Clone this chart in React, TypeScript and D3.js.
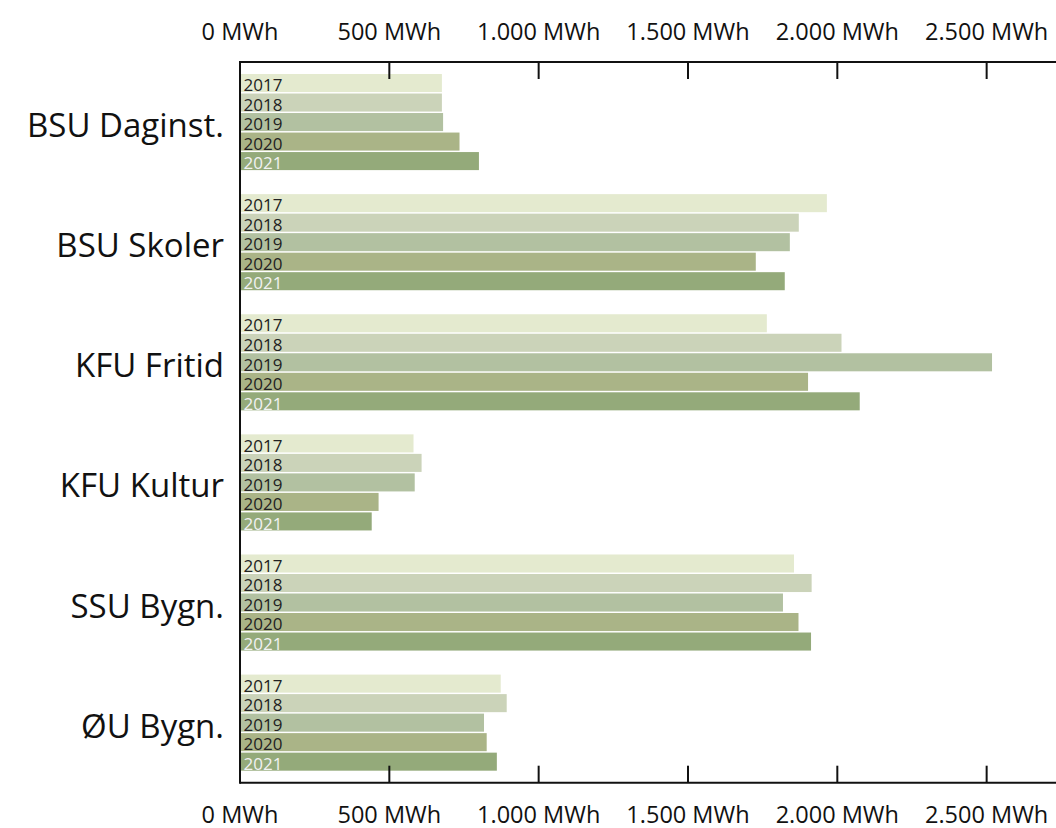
import React from "react";
import * as d3 from "d3";

const categories = ["BSU Daginst.", "BSU Skoler", "KFU Fritid", "KFU Kultur", "SSU Bygn.", "ØU Bygn."];
const years = ["2017", "2018", "2019", "2020", "2021"];
const values2017 = [676, 1965, 1764, 581, 1855, 873];
const values2018 = [676, 1871, 2014, 608, 1914, 893];
const values2019 = [680, 1841, 2518, 585, 1818, 817];
const values2020 = [735, 1727, 1902, 464, 1870, 826];
const values2021 = [800, 1824, 2075, 441, 1912, 860];
const tickValues = [0, 500, 1000, 1500, 2000, 2500];
const yearColors = ["#e4eacf", "#cbd3b9", "#b2c1a1", "#aab487", "#94aa7a"];
const yearTextColors = ["#222", "#222", "#222", "#222", "#f2f2f2"];

const seriesByYear = [values2017, values2018, values2019, values2020, values2021];

const W = 1056;
const H = 828;
const left = 240;
const top = 62;
const bottom = 782.7;
const font = "'Open Sans', sans-serif";

const fmt = (v: number) => d3.format(",")(v).replace(/,/g, ".") + " MWh";

export default function App() {
  const x = d3.scaleLinear().domain([0, 2800]).range([left, left + 2800 * 0.29866]);
  const y0 = d3.scaleBand<string>().domain(categories).range([top, bottom]).paddingInner(0.2).paddingOuter(0.1);
  const y1 = d3.scaleBand<string>().domain(years).range([0, y0.bandwidth()]).paddingInner(0.075);

  return (
    <svg width={W} height={H} style={{ position: "absolute", left: 0, top: 0, background: "#fff" }}>
      {categories.map((c, ci) => (
        <g key={c} transform={`translate(0,${y0(c)})`}>
          {years.map((yr, yi) => {
            const v = seriesByYear[yi][ci];
            const yy = y1(yr)!;
            const h = y1.bandwidth();
            return (
              <g key={yr}>
                <rect x={x(0) + 1} y={yy} width={x(v) - x(0) - 1} height={h} fill={yearColors[yi]} />
                <text
                  x={x(0) + 3.5}
                  y={yy + h - 0.8}
                  fontFamily={font}
                  fontSize={17}
                  fill={yearTextColors[yi]}
                >
                  {yr}
                </text>
              </g>
            );
          })}
          <text
            x={224}
            y={y0.bandwidth() / 2 + 15}
            textAnchor="end"
            fontFamily={font}
            fontSize={33}
            fill="#111"
          >
            {c}
          </text>
        </g>
      ))}
      <line x1={left} x2={W} y1={top} y2={top} stroke="#111" strokeWidth={2} />
      <line x1={left} x2={W} y1={bottom} y2={bottom} stroke="#111" strokeWidth={2} />
      <line x1={left} x2={left} y1={top - 1} y2={bottom + 1} stroke="#111" strokeWidth={2} />
      {tickValues.map((t) => (
        <g key={t}>
          {t > 0 && <line x1={x(t)} x2={x(t)} y1={top} y2={top + 17} stroke="#111" strokeWidth={2} />}
          {t > 0 && <line x1={x(t)} x2={x(t)} y1={bottom} y2={bottom - 17} stroke="#111" strokeWidth={2} />}
          <text x={x(t)} y={40} textAnchor="middle" fontFamily={font} fontSize={23.5} fill="#111">
            {fmt(t)}
          </text>
          <text x={x(t)} y={823} textAnchor="middle" fontFamily={font} fontSize={23.5} fill="#111">
            {fmt(t)}
          </text>
        </g>
      ))}
    </svg>
  );
}
